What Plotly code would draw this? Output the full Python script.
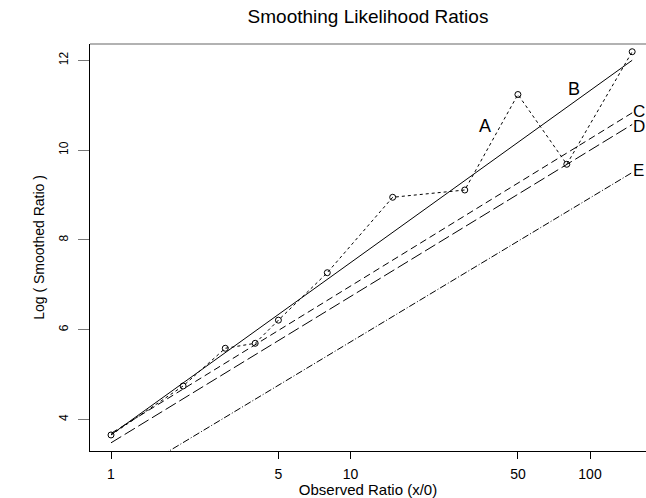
import math
import plotly.graph_objects as go

# Observed points (x = observed ratio, y = log smoothed ratio)
obs_x = [1, 2, 3, 4, 5, 8, 15, 30, 50, 80, 150]
obs_y = [3.655, 4.746, 5.586, 5.697, 6.212, 7.269, 8.949, 9.111, 11.238, 9.684, 12.191]

# Reference curves (endpoints)
line_x = [1, 150]
curve_ab = [3.66, 12.00]
curve_c = [3.69, 10.83]
curve_d = [3.48, 10.57]
curve_e = [2.52, 9.50]

# Curve labels
label_text = ["A", "B"]
label_x = [36.4, 85.7]
label_y = [10.54, 11.36]
end_labels = ["C", "D", "E"]
end_label_y = [10.86, 10.52, 9.55]

x_ticks = [1, 5, 10, 50, 100]
y_ticks = [4, 6, 8, 10, 12]

FONT = "Liberation Sans, Arial, Helvetica, sans-serif"

fig = go.Figure()
fig.add_trace(go.Scatter(x=line_x, y=curve_ab, mode="lines",
                         line=dict(color="black", width=1), showlegend=False))
fig.add_trace(go.Scatter(x=line_x, y=curve_c, mode="lines",
                         line=dict(color="black", width=1, dash="7px,4px"), showlegend=False))
fig.add_trace(go.Scatter(x=line_x, y=curve_d, mode="lines",
                         line=dict(color="black", width=1, dash="12px,4px"), showlegend=False))
fig.add_trace(go.Scatter(x=line_x, y=curve_e, mode="lines",
                         line=dict(color="black", width=1, dash="7px,2px,1px,2px"), showlegend=False))
fig.add_trace(go.Scatter(x=obs_x, y=obs_y, mode="lines+markers",
                         line=dict(color="black", width=1, dash="3px,3px"),
                         marker=dict(symbol="circle-open", size=6, color="black",
                                     line=dict(width=1, color="black")),
                         cliponaxis=False,
                         showlegend=False))

# annotations on a log axis take log10 positions
annotations = []
for t, x, y in zip(label_text, label_x, label_y):
    annotations.append(dict(x=math.log10(x), y=y, xref="x", yref="y", text=t, showarrow=False,
                            font=dict(family=FONT, size=18, color="black"),
                            xanchor="center", yanchor="middle"))
for t, y in zip(end_labels, end_label_y):
    annotations.append(dict(x=math.log10(line_x[-1]), y=y, xref="x", yref="y", text=t,
                            showarrow=False, borderpad=0,
                            font=dict(family=FONT, size=17, color="black"),
                            xanchor="left", yanchor="middle", xshift=0))

fig.update_layout(
    width=646, height=498,
    margin=dict(l=90, r=0, t=44, b=47),
    paper_bgcolor="white", plot_bgcolor="white",
    title=dict(text="Smoothing Likelihood Ratios", x=0.5, xref="paper", xanchor="center",
               y=1 - 16 / 498, yref="container", yanchor="middle",
               font=dict(family=FONT, size=19, color="black")),
    annotations=annotations,
    shapes=[dict(type="line", xref="paper", yref="paper", x0=0, x1=1, y0=1, y1=1,
                 line=dict(color="#999999", width=1.5))],
    font=dict(family=FONT, color="black"),
)
fig.update_xaxes(type="log", range=[-0.0877, 2.2338], tickvals=x_ticks,
                 ticktext=[str(v) for v in x_ticks],
                 showgrid=False, zeroline=False, showline=True, linecolor="black", linewidth=1,
                 ticks="outside", ticklen=7, tickcolor="black", tickwidth=1,
                 tickfont=dict(family=FONT, size=14, color="black"),
                 ticklabelstandoff=3,
                 title=dict(text="Observed Ratio (x/0)", standoff=8,
                            font=dict(family=FONT, size=15, color="black")),
                 automargin=False)
fig.update_yaxes(range=[3.298, 12.363], tickvals=y_ticks, ticktext=[str(v) for v in y_ticks],
                 showgrid=False, zeroline=False, showline=True, linecolor="black", linewidth=1,
                 ticks="outside", ticklen=11, tickcolor="#777777", tickwidth=1,
                 tickangle=-90,
                 tickfont=dict(family=FONT, size=12, color="black"),
                 ticklabelstandoff=5,
                 title=dict(text="Log ( Smoothed Ratio )", standoff=9,
                            font=dict(family=FONT, size=14, color="black")),
                 automargin=False)

fig.write_html("out.html", config={"displayModeBar": False},
               post_script="document.body.style.margin='0px';"
                           "document.body.style.overflow='hidden';")
